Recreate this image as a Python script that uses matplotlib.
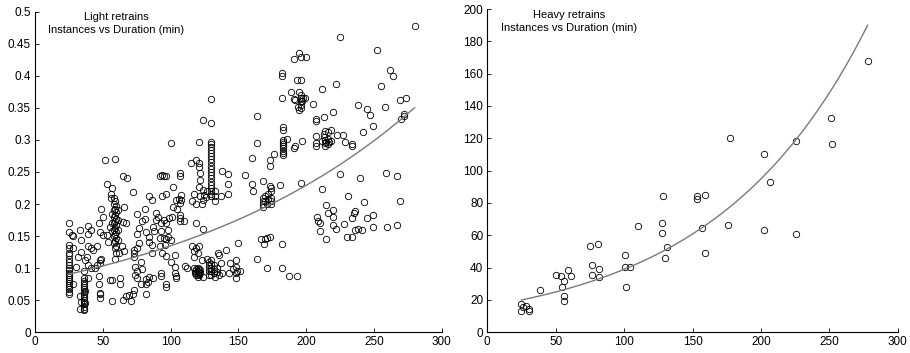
import numpy as np
import matplotlib
matplotlib.use('Agg')
import matplotlib.pyplot as plt
from matplotlib.ticker import FuncFormatter

plt.rcParams['font.family'] = ['Liberation Sans', 'DejaVu Sans']

# light retrains: (duration min, instances)
light_points = [
    # x ~ 25
    (25, 0.171), (25, 0.157), (25, 0.136), (25, 0.131), (25, 0.123), (25, 0.12), (25, 0.115),
    (25, 0.11), (25, 0.105), (25, 0.1), (25, 0.097), (25, 0.093), (25, 0.09), (25, 0.087),
    (25, 0.083), (25, 0.08), (25, 0.077), (25, 0.073), (25, 0.07), (25, 0.067), (25, 0.063),
    (25, 0.06), (27, 0.151), (28, 0.15), (28, 0.131), (28, 0.075), (30, 0.102), (33, 0.16),
    (34, 0.144), (34, 0.126), (32, 0.118),
    # x ~ 36
    (36, 0.085), (36, 0.08), (36, 0.077), (36, 0.073), (36, 0.07), (36, 0.067), (36, 0.063),
    (36, 0.06), (36, 0.057), (36, 0.053), (36, 0.05), (36, 0.047), (36, 0.044), (36, 0.04),
    (36, 0.037), (36, 0.035), (37, 0.065), (37, 0.045), (33, 0.057), (33, 0.037), (34, 0.048),
    (37, 0.113), (36, 0.095), (38, 0.118), (39, 0.085),
    # 38 - 50
    (39, 0.166), (39, 0.154), (41, 0.16), (39, 0.134), (41, 0.131), (43, 0.129), (46, 0.134),
    (39, 0.105), (41, 0.1), (44, 0.101), (46, 0.105), (48, 0.108), (48, 0.113), (49, 0.115),
    (47, 0.088), (47, 0.075), (48, 0.062), (48, 0.053), (48, 0.06), (47, 0.17), (48, 0.156),
    (49, 0.192), (50, 0.18),
    # 50 - 60
    (52, 0.269), (59, 0.271), (53, 0.232), (57, 0.225), (56, 0.215), (56, 0.209), (50, 0.151),
    (53, 0.152), (55, 0.165), (54, 0.141), (55, 0.082), (57, 0.082), (57, 0.049), (63, 0.084),
    (63, 0.076),
    # x ~ 59
    (58, 0.21), (59, 0.205), (58, 0.2), (60, 0.197), (59, 0.193), (58, 0.19), (60, 0.187),
    (59, 0.183), (58, 0.18), (60, 0.177), (59, 0.173), (58, 0.17), (60, 0.167), (59, 0.163),
    (58, 0.16), (60, 0.157), (59, 0.153), (58, 0.15), (60, 0.147), (59, 0.143), (58, 0.14),
    (60, 0.135), (59, 0.131), (60, 0.123), (59, 0.115), (61, 0.144), (62, 0.123), (57, 0.185),
    (57, 0.17), (57, 0.158), (61, 0.19), (61, 0.175), (61, 0.16),
    # 60 - 80
    (65, 0.244), (68, 0.241), (66, 0.196), (65, 0.172), (67, 0.171), (72, 0.219), (64, 0.134),
    (66, 0.127), (65, 0.05), (67, 0.057), (69, 0.058), (71, 0.049), (72, 0.06), (73, 0.066),
    (74, 0.102), (75, 0.096), (75, 0.084), (74, 0.089), (73, 0.123), (73, 0.128), (75, 0.131),
    (73, 0.118), (75, 0.185), (75, 0.154), (77, 0.162), (79, 0.173), (77, 0.139), (78, 0.11),
    (79, 0.098), (78, 0.075),
    # 80 - 100
    (81, 0.192), (81, 0.176), (82, 0.083), (82, 0.075), (82, 0.06), (84, 0.087), (83, 0.079),
    (82, 0.157), (84, 0.148), (84, 0.141), (84, 0.212), (86, 0.206), (86, 0.136), (86, 0.123),
    (87, 0.165), (88, 0.158), (87, 0.085), (89, 0.175), (89, 0.186), (92, 0.243), (94, 0.246),
    (95, 0.244), (94, 0.212), (97, 0.215), (97, 0.243), (91, 0.18), (93, 0.17), (95, 0.175),
    (97, 0.17), (98, 0.16), (93, 0.158), (92, 0.147), (95, 0.147), (96, 0.136), (97, 0.145),
    (100, 0.144), (98, 0.149), (92, 0.134), (94, 0.123), (93, 0.092), (93, 0.088), (97, 0.075),
    (97, 0.071), (97, 0.119),
    # 100 - 118
    (100, 0.296), (101, 0.18), (99, 0.179), (102, 0.226), (100, 0.109), (102, 0.196),
    (103, 0.121), (103, 0.093), (104, 0.088), (104, 0.084), (103, 0.102), (104, 0.206),
    (105, 0.192), (107, 0.249), (107, 0.243), (106, 0.208), (107, 0.201), (107, 0.183),
    (107, 0.178), (107, 0.174), (108, 0.214), (108, 0.207), (110, 0.174), (111, 0.103),
    (112, 0.1), (115, 0.264), (116, 0.204), (117, 0.215), (116, 0.135), (117, 0.127),
    (117, 0.118),
    # x ~ 120
    (119, 0.269), (121, 0.264), (121, 0.297), (121, 0.258), (122, 0.248), (122, 0.238),
    (121, 0.227), (122, 0.212), (119, 0.2), (123, 0.2), (119, 0.17), (124, 0.161), (124, 0.331),
    (119, 0.131), (120, 0.123), (121, 0.134), (123, 0.113), (124, 0.087), (117, 0.1),
    (118, 0.095), (118, 0.092), (119, 0.098), (119, 0.093), (119, 0.089), (120, 0.1),
    (120, 0.096), (120, 0.091), (120, 0.087), (121, 0.098), (121, 0.094), (121, 0.09),
    (122, 0.097), (122, 0.092), (124, 0.222), (125, 0.214), (124, 0.206),
    # x ~ 130
    (130, 0.297), (130, 0.293), (130, 0.289), (130, 0.285), (130, 0.28), (130, 0.275),
    (130, 0.27), (130, 0.265), (130, 0.26), (130, 0.255), (130, 0.25), (130, 0.245),
    (130, 0.24), (130, 0.235), (130, 0.23), (130, 0.225), (130, 0.22), (130, 0.215),
    (130, 0.212), (130, 0.364), (130, 0.326), (127, 0.22), (126, 0.211), (133, 0.212),
    (133, 0.221), (133, 0.204), (138, 0.252), (142, 0.247), (142, 0.231), (142, 0.215),
    (137, 0.213), (127, 0.115), (128, 0.11), (128, 0.105), (128, 0.1), (128, 0.095),
    (128, 0.09), (130, 0.112), (130, 0.107), (130, 0.1), (130, 0.095), (130, 0.09),
    (132, 0.105), (132, 0.098), (132, 0.093), (133, 0.087), (134, 0.1), (134, 0.094),
    (136, 0.09), (135, 0.123), (136, 0.121), (141, 0.128), (137, 0.108), (143, 0.093),
    (138, 0.093),
    # 140 - 165
    (144, 0.108), (148, 0.113), (148, 0.102), (148, 0.092), (148, 0.085), (149, 0.095),
    (150, 0.139), (151, 0.096), (146, 0.098), (155, 0.245), (160, 0.272), (160, 0.232),
    (161, 0.221), (164, 0.338), (164, 0.295), (164, 0.114),
    # x ~ 172
    (168, 0.21), (168, 0.205), (168, 0.2), (168, 0.196), (170, 0.212), (170, 0.205),
    (171, 0.2), (172, 0.208), (172, 0.215), (174, 0.21), (174, 0.204), (174, 0.2), (174, 0.22),
    (174, 0.225), (173, 0.228), (168, 0.236), (173, 0.268), (173, 0.26), (176, 0.278),
    (181, 0.23), (167, 0.145), (169, 0.138), (170, 0.145), (171, 0.147), (173, 0.149),
    (171, 0.1), (182, 0.137), (182, 0.101), (187, 0.088), (193, 0.088),
    # x ~ 183
    (183, 0.32), (183, 0.315), (183, 0.3), (183, 0.297), (183, 0.293), (183, 0.29),
    (183, 0.287), (183, 0.283), (183, 0.28), (183, 0.277), (182, 0.404), (182, 0.4),
    (182, 0.366), (186, 0.302), (191, 0.287), (192, 0.291),
    # 185 - 200
    (191, 0.426), (195, 0.435), (196, 0.43), (200, 0.43), (189, 0.374), (191, 0.364),
    (193, 0.393), (196, 0.393), (195, 0.375), (196, 0.37), (196, 0.365), (196, 0.36),
    (196, 0.355), (196, 0.35), (195, 0.347), (197, 0.36), (198, 0.365), (194, 0.352),
    (192, 0.362), (199, 0.366), (197, 0.298), (196, 0.233),
    # 200 - 220
    (205, 0.356), (207, 0.332), (207, 0.33), (212, 0.379), (207, 0.306), (207, 0.296),
    (207, 0.29), (213, 0.336), (213, 0.31), (213, 0.305), (214, 0.3), (214, 0.295),
    (214, 0.29), (215, 0.297), (216, 0.302), (216, 0.293), (217, 0.297), (218, 0.298),
    (212, 0.298), (216, 0.313), (218, 0.315), (214, 0.314),
    # 220 - 280
    (220, 0.343), (222, 0.388), (223, 0.308), (225, 0.46), (227, 0.307), (229, 0.297),
    (234, 0.294), (234, 0.29), (225, 0.247), (238, 0.354), (242, 0.312), (245, 0.349),
    (247, 0.339), (249, 0.322), (240, 0.241), (252, 0.44), (255, 0.384), (258, 0.351),
    (262, 0.409), (264, 0.399), (259, 0.248), (267, 0.243), (269, 0.362), (274, 0.365),
    (270, 0.333), (272, 0.338), (272, 0.341), (280, 0.477), (269, 0.204),
    # lower right group
    (212, 0.223), (208, 0.18), (209, 0.174), (210, 0.17), (210, 0.158), (215, 0.198),
    (215, 0.146), (216, 0.186), (220, 0.191), (220, 0.18), (220, 0.167), (222, 0.161),
    (228, 0.169), (231, 0.212), (230, 0.148), (234, 0.149), (235, 0.186), (236, 0.189),
    (234, 0.179), (236, 0.16), (238, 0.161), (241, 0.16), (243, 0.203), (245, 0.178),
    (249, 0.183), (249, 0.164), (260, 0.165), (267, 0.167),
]

# heavy retrains
heavy_duration = [24.6, 24.6, 25.8, 28, 30.5, 30.5, 38.8, 50.4, 54.1, 56.1, 58.7, 60.9,
                  54.6, 56.1, 56.1, 75.3, 80.9, 76.8, 81.9, 76.8, 81.9, 100.9, 100.7, 104,
                  101.6, 110.2, 128.7, 128, 128, 131.6, 130.1, 153.1, 153.1, 159.2, 157.2,
                  159.2, 177.2, 175.7, 202, 202, 206.9, 225.7, 225.7, 251, 252, 278.1]
heavy_instances = [17.3, 13.4, 15.9, 16.3, 14.2, 13.4, 26.4, 35.7, 34.6, 31.5, 38.8, 34.6,
                   27.8, 22.5, 19.2, 53.2, 54.4, 41.4, 39.4, 35.3, 34.0, 47.8, 40.4, 40.4,
                   28.0, 65.6, 84.3, 67.8, 61.4, 52.8, 46.2, 84.3, 82.5, 84.9, 64.3,
                   49.1, 120, 66.6, 110.1, 63.3, 93, 118.1, 60.8, 132.8, 116.5, 167.8]

# exponential trend lines  y = a*exp(b*x)
light_fit = (0.0794, 0.0053)
light_fit_range = (25, 280)
heavy_fit = (16.0, 0.0089)
heavy_fit_range = (25, 278)

light_duration = np.array([p[0] for p in light_points])
light_instances = np.array([p[1] for p in light_points])

fig = plt.figure(figsize=(9.1, 3.53), dpi=100)
ax1 = fig.add_axes([35/910, 1 - 332.3/353, 406.7/910, 320.6/353])
ax2 = fig.add_axes([487.3/910, 1 - 332.3/353, 410.4/910, 323.3/353])


def estilo(ax, ymax, ystep):
    ax.set_xlim(0, 300)
    ax.set_ylim(0, ymax)
    ax.set_xticks(np.arange(0, 301, 50))
    ax.set_yticks(np.arange(0, ymax + ystep / 2, ystep))
    ax.yaxis.set_major_formatter(FuncFormatter(lambda v, p: '%g' % round(v, 4)))
    ax.spines['top'].set_visible(False)
    ax.spines['right'].set_visible(False)
    for s in ['left', 'bottom']:
        ax.spines[s].set_linewidth(0.8)
    ax.tick_params(direction='in', length=3, width=0.6, labelsize=8.5, pad=3)


def curva(ax, fit, rango):
    xs = np.linspace(rango[0], rango[1], 200)
    ax.plot(xs, fit[0] * np.exp(fit[1] * xs), color='#7a7a7a', lw=1.0, zorder=3)


ax1.plot(light_duration, light_instances, 'o', mfc='none', mec='k', ms=4.6, mew=0.6)
curva(ax1, light_fit, light_fit_range)
estilo(ax1, 0.5, 0.05)
ax1.text(0.2, 0.963, 'Light retrains\nInstances vs Duration (min)', transform=ax1.transAxes,
         ha='center', va='center', fontsize=8, linespacing=1.3)

ax2.plot(heavy_duration, heavy_instances, 'o', mfc='none', mec='k', ms=4.6, mew=0.6)
curva(ax2, heavy_fit, heavy_fit_range)
estilo(ax2, 200, 20)
ax2.text(0.2, 0.961, 'Heavy retrains\nInstances vs Duration (min)', transform=ax2.transAxes,
         ha='center', va='center', fontsize=8, linespacing=1.3)

fig.savefig('out.png', dpi=100)
